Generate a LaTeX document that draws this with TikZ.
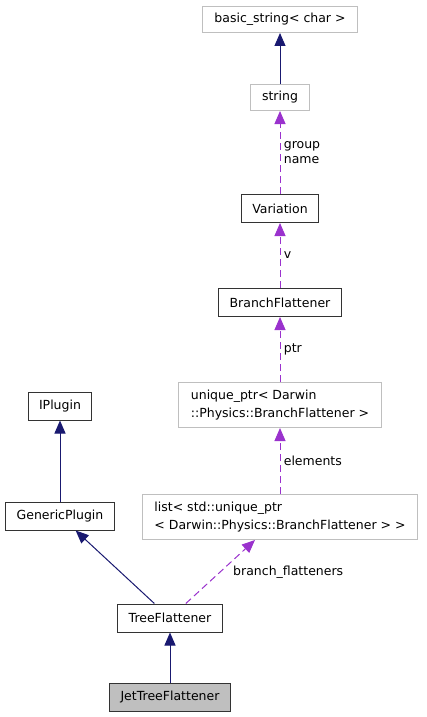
\documentclass[tikz,border=0pt]{standalone}
\usepackage{fontspec}
\setmainfont{DejaVu Sans}
\usepackage{tikz}
\usetikzlibrary{arrows.meta,positioning}
\usepackage{xcolor}
\definecolor{inhcol}{RGB}{25,25,112}
\definecolor{usecol}{RGB}{154,50,205}
\definecolor{extcol}{RGB}{191,191,191}

\begin{document}
\begin{tikzpicture}[
        x=1pt, y=-1pt,
        box/.style={rectangle, draw=black!80, line width=1pt,
                    minimum height=28pt, inner xsep=11pt,
                    align=left, font=\fontsize{12.5}{17.5}\selectfont},
        extbox/.style={box, draw=extcol, inner xsep=12pt, minimum height=26pt},
        twoline/.style={minimum height=45pt},
        curbox/.style={box, fill=extcol},
        inh/.style={-{Triangle[length=13pt,width=11pt]}, inhcol, line width=1pt},
        usage/.style={-{Triangle[length=13pt,width=11pt]}, usecol, line width=1pt,
                      dash pattern=on 7pt off 4pt},
        lbl/.style={right, align=left, text=black,
                    font=\fontsize{12.5}{15}\selectfont}
      ]
      \useasboundingbox (0,0) rectangle (427,717);

      \node[curbox] (jet) at (170,697) {JetTreeFlattener};
      \node[box, above=50pt of jet] (tree) {TreeFlattener};
      \node[box] (generic) at (60,516) {GenericPlugin};
      \node[box, above=81pt of generic] (iplugin) {IPlugin};

      \node[extbox, twoline] (list) at (280,517) {list\textless{} std::unique\_ptr\\\textless{} Darwin::Physics::BranchFlattener \textgreater{} \textgreater};
      \node[extbox, twoline, above=66pt of list] (uptr) {unique\_ptr\textless{} Darwin\\::Physics::BranchFlattener \textgreater};
      \node[box, above=65pt of uptr] (branch) {BranchFlattener};
      \node[box, above=65pt of branch] (variation) {Variation};
      \node[extbox, above=83pt of variation] (string) {string};
      \node[extbox, above=51pt of string] (basic) {basic\_string\textless{} char \textgreater};

      \draw[inh] (jet) -- (tree);
      \draw[inh] (tree) -- (generic);
      \draw[inh] (generic) -- (iplugin);
      \draw[inh] (string) -- (basic);

      \draw[usage] (tree) -- node[lbl, xshift=9pt]{branch\_flatteners} (list);
      \draw[usage] (list) -- node[lbl]{elements} (uptr);
      \draw[usage] (uptr) -- node[lbl]{ptr} (branch);
      \draw[usage] (branch) -- node[lbl]{v} (variation);
      \draw[usage] (variation) -- node[lbl]{group\\name} (string);
    \end{tikzpicture}
\end{document}
